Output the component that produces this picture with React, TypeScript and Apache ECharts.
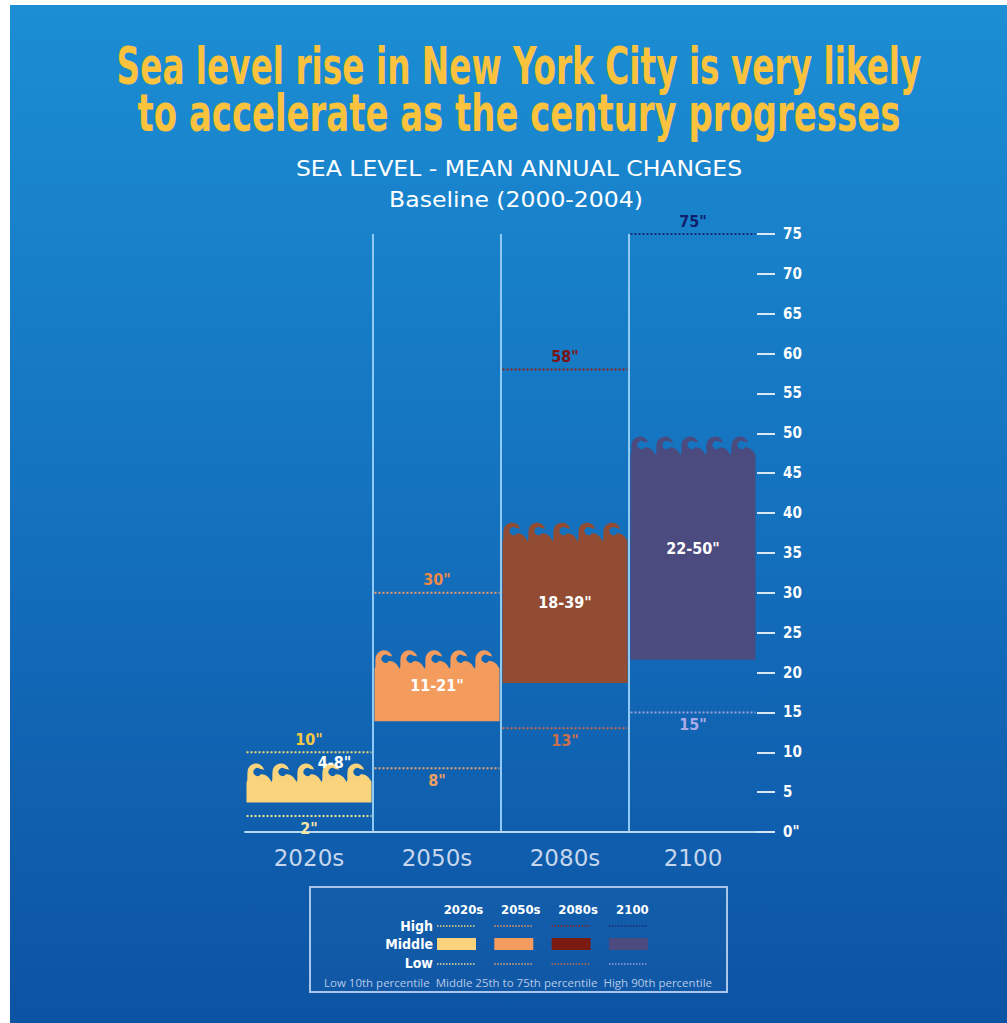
import React, { useEffect, useRef } from 'react';
import * as echarts from 'echarts';

// ---------- data ----------
const categories = ['2020s', '2050s', '2080s', '2100'];
const lowValues = [2, 8, 13, 15]; // 10th percentile
const highValues = [10, 30, 58, 75]; // 90th percentile
const middleBottom = [3.7, 13.9, 18.7, 21.6]; // drawn bottom of middle band
const middleCrest = [8.6, 22.8, 38.8, 49.6]; // drawn crest of wave
const middleLabels = ['4-8"', '11-21"', '18-39"', '22-50"'];
const lowLabels = ['2"', '8"', '13"', '15"'];
const highLabels = ['10"', '30"', '58"', '75"'];
const legendRows = ['High', 'Middle', 'Low'];
const footnotes = ['Low 10th percentile', 'Middle 25th to 75th percentile', 'High 90th percentile'];
const titleLines = ['Sea level rise in New York City is very likely', 'to accelerate as the century progresses'];
const subtitleLines = ['SEA LEVEL - MEAN ANNUAL CHANGES', 'Baseline (2000-2004)'];

// ---------- styles ----------
const NARROW = "'DejaVu Sans Condensed', 'Liberation Sans Narrow', sans-serif";
const barColors = ['#fad47c', '#f49b5e', '#914c33', '#4b4b80'];
const legendMiddleColors = ['#fad47c', '#f49b5e', '#7b1a10', '#4b4b80'];
const highLineColors = ['#f2d777', '#ef9a62', '#8e2418', '#1c2b7a'];
const lowLineColors = ['#f3dd95', '#eaa373', '#c66c4a', '#9d9fdc'];
const highLabelColors = ['#f6c843', '#ee8a45', '#7c1414', '#0f1f6b'];
const lowLabelColors = ['#f7e6a4', '#eea062', '#c8704c', '#a9abe8'];

function wavePath(xl: number, xr: number, yCrest: number, yBot: number, n: number) {
  const w = (xr - xl) / n;
  const yFlat = Math.min(yCrest + 0.82 * w, yBot - 2);
  const P = (x0: number, ux: number, uy: number) =>
    `${(x0 + ux * w).toFixed(2)} ${(yFlat - uy * w).toFixed(2)}`;
  const R = (0.34 * w).toFixed(2);
  const r = (0.16 * w).toFixed(2);
  let d = `M ${xl.toFixed(2)} ${yBot.toFixed(2)} L ${P(xl, 0, 0.08)}`;
  for (let i = 0; i < n; i++) {
    const x0 = xl + i * w;
    d += ` C ${P(x0, 0.06, 0.15)} ${P(x0, 0.02, 0.32)} ${P(x0, 0.04, 0.48)}`;
    d += ` A ${R} ${R} 0 0 1 ${P(x0, 0.708, 0.568)}`;
    d += ` L ${P(x0, 0.532, 0.611)}`;
    d += ` A ${r} ${r} 0 1 0 ${P(x0, 0.571, 0.388)}`;
    d += ` C ${P(x0, 0.78, 0.42)} ${P(x0, 0.92, 0.25)} ${P(x0, 1, 0.08)}`;
  }
  d += ` L ${xr.toFixed(2)} ${yBot.toFixed(2)} Z`;
  return d;
}

function renderColumn(params: any, api: any) {
  const i = api.value(0);
  const band = api.size([1, 0])[0];
  const cx = api.coord([i, 0])[0];
  const xl = cx - band / 2 + 1.5;
  const xr = cx + band / 2 - 1.5;
  const yBot = api.coord([i, api.value(1)])[1];
  const yCrest = api.coord([i, api.value(2)])[1];
  const yLow = api.coord([i, api.value(3)])[1];
  const yHigh = api.coord([i, api.value(4)])[1];
  const n = Math.max(3, Math.round((xr - xl) / 26));
  const small = yBot - yCrest < 60;
  const labelFont = { fontFamily: NARROW, fontWeight: 'bold', fontSize: 16 };
  return {
    type: 'group',
    children: [
      { type: 'path', shape: { pathData: wavePath(xl, xr, yCrest, yBot, n) }, style: { fill: barColors[i] } },
      {
        type: 'line',
        shape: { x1: xl, y1: yHigh, x2: xr, y2: yHigh },
        style: { stroke: highLineColors[i], lineWidth: 2, lineDash: [2, 2] },
      },
      {
        type: 'line',
        shape: { x1: xl, y1: yLow, x2: xr, y2: yLow },
        style: { stroke: lowLineColors[i], lineWidth: 2, lineDash: [2, 2] },
      },
      {
        type: 'text',
        style: {
          text: highLabels[i], x: cx, y: yHigh - 13, textAlign: 'center', textVerticalAlign: 'middle',
          fill: highLabelColors[i], ...labelFont,
        },
      },
      {
        type: 'text',
        style: {
          text: lowLabels[i], x: cx, y: yLow + 12, textAlign: 'center', textVerticalAlign: 'middle',
          fill: lowLabelColors[i], ...labelFont,
        },
      },
      {
        type: 'text',
        style: {
          text: middleLabels[i],
          x: small ? cx + band * 0.2 : cx,
          y: small ? yCrest - 1 : (yBot + yCrest) / 2,
          textAlign: 'center', textVerticalAlign: 'middle',
          fill: '#ffffff', ...labelFont,
        },
      },
    ],
  };
}

function buildGraphics() {
  const g: any[] = [];
  g.push({
    type: 'rect', z: -100, silent: true,
    shape: { x: 10, y: 5, width: 997, height: 1018 },
    style: {
      fill: new echarts.graphic.LinearGradient(0, 0, 0, 1, [
        { offset: 0, color: '#1b8ed4' },
        { offset: 0.5, color: '#1471be' },
        { offset: 1, color: '#0c53a3' },
      ]),
    },
  });
  const titleScale = [0.70, 0.725];
  titleLines.forEach((t, k) => {
    g.push({
      type: 'text', x: 519, y: 66 + 47 * k, scaleX: titleScale[k], silent: true,
      style: {
        text: t, textAlign: 'center', textVerticalAlign: 'middle', fill: '#fac23d',
        fontFamily: NARROW, fontWeight: 'bold', fontSize: 52,
      },
    });
  });
  subtitleLines.forEach((t, k) => {
    g.push({
      type: 'text', x: k === 0 ? 519 : 516, y: 168 + 31 * k, scaleX: 1.07, silent: true,
      style: {
        text: t, textAlign: 'center', textVerticalAlign: 'middle', fill: '#ffffff',
        fontFamily: "'DejaVu Sans', sans-serif", fontSize: 22,
      },
    });
  });
  // legend box
  g.push({
    type: 'rect', silent: true,
    shape: { x: 310, y: 887, width: 417, height: 105 },
    style: { fill: 'rgba(255,255,255,0.02)', stroke: '#a9c6ea', lineWidth: 2 },
  });
  const rowY = [926, 944, 963];
  legendRows.forEach((t, k) => {
    g.push({
      type: 'text', silent: true,
      style: {
        text: t, x: 433, y: rowY[k], textAlign: 'right', textVerticalAlign: 'middle', fill: '#ffffff',
        fontFamily: NARROW, fontWeight: 'bold', fontSize: 14,
      },
    });
  });
  categories.forEach((c, i) => {
    const sx = 437 + 57.3 * i;
    const sw = 39;
    g.push({
      type: 'text', silent: true,
      style: {
        text: c, x: sx + sw / 2 + (i < 3 ? 7 : 4), y: 909, textAlign: 'center', textVerticalAlign: 'middle',
        fill: '#ffffff', fontFamily: NARROW, fontWeight: 'bold', fontSize: 13,
      },
    });
    g.push({
      type: 'line', silent: true,
      shape: { x1: sx, y1: 926, x2: sx + sw, y2: 926 },
      style: { stroke: highLineColors[i], lineWidth: 1.5, lineDash: [1.5, 1.5] },
    });
    g.push({
      type: 'rect', silent: true,
      shape: { x: sx, y: 938, width: sw, height: 12 },
      style: { fill: legendMiddleColors[i] },
    });
    g.push({
      type: 'line', silent: true,
      shape: { x1: sx, y1: 964, x2: sx + sw, y2: 964 },
      style: { stroke: lowLineColors[i], lineWidth: 1.5, lineDash: [1.5, 1.5] },
    });
  });
  g.push({
    type: 'text', silent: true,
    style: {
      text: footnotes.join('  '), x: 518, y: 982, textAlign: 'center', textVerticalAlign: 'middle',
      fill: '#b6c9e6', fontFamily: "'Open Sans', sans-serif", fontSize: 11.5,
    },
  });
  return g;
}

export default function App() {
  const ref = useRef<HTMLDivElement>(null);
  useEffect(() => {
    document.body.style.margin = '0';
    const chart = echarts.init(ref.current!, null, { renderer: 'svg' });
    const option: any = {
      animation: false,
      grid: { left: 245, right: 250, top: 234, bottom: 191 },
      xAxis: {
        type: 'category',
        data: categories,
        axisLine: { show: true, lineStyle: { color: '#b7d7f2', width: 2 } },
        axisTick: { show: false },
        axisLabel: {
          color: '#c6d6ec', fontSize: 23, fontFamily: "'DejaVu Sans', sans-serif", margin: 14, interval: 0,
        },
        splitLine: {
          show: true, showMinLine: false, showMaxLine: false, interval: 0,
          lineStyle: { color: '#8fcaf4', width: 2 },
        },
      },
      yAxis: {
        type: 'value',
        position: 'right',
        min: 0,
        max: 75,
        interval: 5,
        axisLine: { show: false },
        axisTick: { show: true, length: 18, lineStyle: { color: '#d9e6f3', width: 2 } },
        axisLabel: {
          margin: 26, color: '#ffffff', fontFamily: NARROW, fontWeight: 'bold', fontSize: 15,
          formatter: (v: number) => (v === 0 ? '0"' : String(v)),
        },
        splitLine: { show: false },
      },
      series: [
        {
          type: 'custom',
          coordinateSystem: 'cartesian2d',
          renderItem: renderColumn,
          clip: false,
          encode: { x: 0, y: [1, 2, 3, 4] },
          data: categories.map((c, i) => [i, middleBottom[i], middleCrest[i], lowValues[i], highValues[i]]),
          z: 3,
        },
      ],
      graphic: buildGraphics(),
    };
    chart.setOption(option);
    return () => chart.dispose();
  }, []);
  return <div ref={ref} style={{ width: 1007, height: 1023 }} />;
}
